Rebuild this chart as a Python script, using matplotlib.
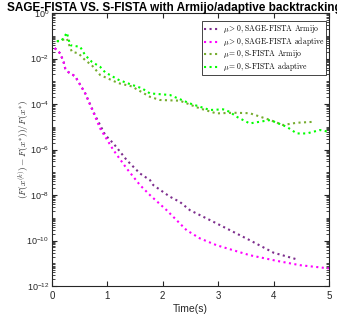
import numpy as np
import matplotlib
matplotlib.use('Agg')
import matplotlib.pyplot as plt
import matplotlib.ticker as tick

plt.rcParams['font.family'] = ['Liberation Sans', 'DejaVu Sans']
plt.rcParams['mathtext.fontset'] = 'cm'

# SAGE-FISTA, mu > 0 (Armijo / adaptive)
sage_armijo_t = [0.05, 0.15, 0.21, 0.24, 0.30, 0.42, 0.60, 0.78, 0.87, 0.96, 1.11, 1.20,
                 1.35, 1.59, 1.77, 1.83, 2.13, 2.31, 2.49, 2.97, 3.57, 4.00, 4.43]
sage_armijo_log = [-1.54, -1.77, -2.14, -2.43, -2.60, -2.78, -3.52, -4.50, -4.92, -5.35, -5.73, -6.00,
                   -6.46, -7.05, -7.34, -7.56, -8.07, -8.30, -8.66, -9.24, -9.98, -10.53, -10.83]
sage_adapt_t = [0.05, 0.15, 0.21, 0.24, 0.30, 0.42, 0.60, 0.78, 0.87, 1.11, 1.35, 1.59,
                1.77, 2.07, 2.43, 2.67, 2.97, 3.57, 4.06, 4.48, 5.00]
sage_adapt_log = [-1.54, -1.77, -2.14, -2.43, -2.60, -2.78, -3.52, -4.55, -5.07, -6.02, -6.83, -7.56,
                  -8.00, -8.66, -9.54, -9.90, -10.20, -10.64, -10.89, -11.08, -11.22]

# S-FISTA, mu = 0 (Armijo / adaptive)
sf_armijo_t = [0.09, 0.18, 0.27, 0.30, 0.36, 0.48, 0.60, 0.72, 0.87, 1.20, 1.44, 1.77, 1.95,
               2.31, 2.67, 2.97, 3.27, 3.57, 3.94, 4.17, 4.42, 4.72]
sf_armijo_log = [-1.24, -1.19, -1.11, -1.33, -1.70, -1.77, -2.07, -2.29, -2.72, -3.08, -3.22, -3.68, -3.82,
                 -3.85, -4.19, -4.41, -4.38, -4.40, -4.70, -4.92, -4.82, -4.78]
sf_adapt_t = [0.09, 0.14, 0.21, 0.27, 0.33, 0.42, 0.51, 0.60, 0.72, 0.87, 0.96, 1.20, 1.44, 1.62,
              1.77, 2.13, 2.49, 2.85, 3.09, 3.21, 3.33, 3.57, 3.94, 4.24, 4.42, 4.60, 4.84, 5.00]
sf_adapt_log = [-1.22, -1.26, -1.11, -0.86, -1.41, -1.45, -1.48, -1.85, -2.14, -2.36, -2.60, -2.93, -3.15, -3.30,
                -3.53, -3.60, -3.97, -4.26, -4.23, -4.34, -4.55, -4.85, -4.70, -5.00, -5.29, -5.29, -5.14, -5.22]

labels = [r'$\mu > 0$, SAGE-FISTA Armijo', r'$\mu > 0$, SAGE-FISTA adaptive',
          r'$\mu = 0$, S-FISTA Armijo', r'$\mu = 0$, S-FISTA adaptive']
colors = ['#7E2F8E', '#FF00FF', '#77AC30', '#00FF00']

fig = plt.figure(figsize=(3.37, 3.27), dpi=100)
ax = fig.add_axes([0.154, 0.125, 0.822, 0.835])

series = [(sage_armijo_t, sage_armijo_log), (sage_adapt_t, sage_adapt_log),
          (sf_armijo_t, sf_armijo_log), (sf_adapt_t, sf_adapt_log)]
for (t, lg), c, lab in zip(series, colors, labels):
    ax.plot(t, 10.0 ** np.array(lg), linestyle=':', color=c, linewidth=1.5,
            dash_capstyle='butt', label=lab)

ax.set_yscale('log')
ax.set_xlim(0, 5)
ax.set_ylim(1e-12, 1)
ax.yaxis.set_major_locator(tick.FixedLocator([10.0 ** k for k in range(-12, 1, 2)]))
ax.yaxis.set_major_formatter(tick.FuncFormatter(
    lambda v, p: r'$\mathregular{10^{%d}}$' % int(round(np.log10(v)))))
ax.yaxis.set_minor_locator(tick.LogLocator(base=10, subs=np.arange(1, 10), numticks=100))
ax.yaxis.set_minor_formatter(tick.NullFormatter())
ax.set_xticks(range(6))

ax.tick_params(which='both', direction='in', top=True, right=True, labelsize=6.5, colors='#262626')
ax.tick_params(axis='y', pad=2)
ax.tick_params(axis='x', labelsize=7)
ax.tick_params(which='major', length=3.5)
ax.tick_params(which='minor', length=2)
for s in ax.spines.values():
    s.set_color('#262626')
    s.set_linewidth(0.8)

ax.set_xlabel('Time(s)', fontsize=7.5, color='#262626', labelpad=2)
ax.set_ylabel(r'$(F(x^{(k)})-F(x^{*}))/F(x^{*})$', fontsize=6.8, color='#262626')
ax.yaxis.set_label_coords(-0.075, 0.5)
fig.text(0.516, 0.995, 'SAGE-FISTA VS. S-FISTA with Armijo/adaptive backtracking',
         fontsize=8.5, fontweight='bold', ha='center', va='top')

leg = ax.legend(loc='upper right', bbox_to_anchor=(0.99, 0.97),
                prop={'family': 'cmr10', 'size': 5.5},
                frameon=True, fancybox=False, framealpha=1, edgecolor='#262626',
                handlelength=2.0, handletextpad=0.5, borderpad=0.25, labelspacing=0.0,
                borderaxespad=0)
leg.get_frame().set_linewidth(0.6)

fig.savefig('out.png', dpi=100)
